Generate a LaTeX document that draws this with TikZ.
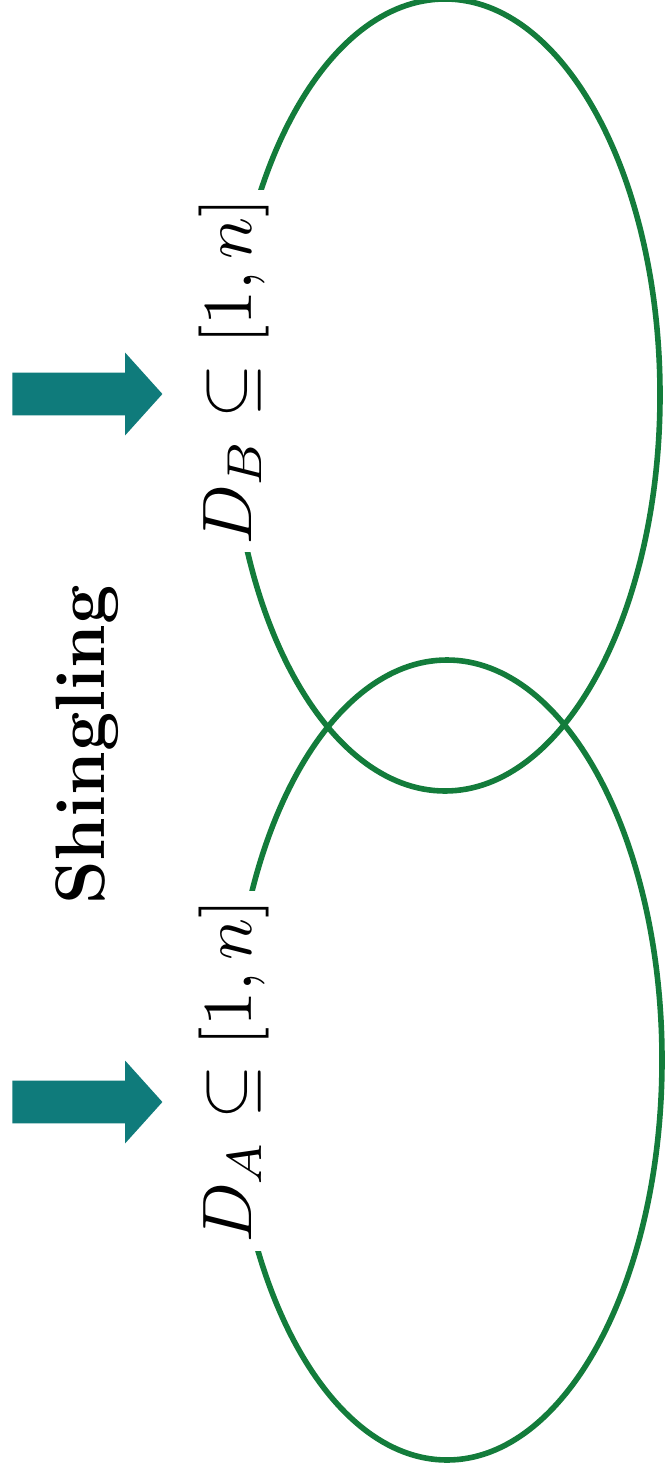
\documentclass[tikz,border=0pt]{standalone}
\usepackage{fix-cm}
\usepackage{graphicx}
\usepackage{xcolor}
\usepackage{tikz}
\usetikzlibrary{shapes.geometric, shapes.arrows}
\definecolor{setgreen}{HTML}{137C3B}
\definecolor{arrowteal}{HTML}{0F7B7B}
\newcommand{\unitpx}{0.5pt}
\newcommand{\size}{\fontsize{35}{42}\selectfont}
\newcommand{\setname}[1]{\scalebox{3.5}{\fontsize{10}{12}\selectfont$#1$}}
\tikzset{
    setring/.style={draw=setgreen, line width=2.8pt, ellipse, minimum width=430*\unitpx, minimum height=#1*\unitpx, inner sep=0pt},
    setlabel/.style={rotate=90, anchor=base, fill=white, inner xsep=4pt, inner ysep=2pt},
    inarrow/.style={single arrow, fill=arrowteal, draw=none, anchor=tail, minimum height=150*\unitpx, inner xsep=0pt, inner ysep=21*\unitpx, single arrow head extend=20*\unitpx, single arrow tip angle=96},
}

\begin{document}
\begin{tikzpicture}[x=\unitpx, y=-\unitpx]
        \useasboundingbox (0,0) rectangle (664,1476);
        % Sets
        \node (setB) [setring=792] at (445,395) {};
        \node (setA) [setring=800] at (447,1060) {};
        % Labels
        \node (labelB) [setlabel] at (251,371) {\setname{D_B \subseteq [1,n]}};
        \node (labelA) [setlabel] at (251,1071) {\setname{D_A \subseteq [1,n]}};
        \node (title) [rotate=90, anchor=base, font=\size\bfseries] at (104,745) {Shingling};
        % Arrows
        \node (arrowB) [inarrow] at (12,394) {};
        \node (arrowA) [inarrow] at (12,1102) {};
\end{tikzpicture}
\end{document}
